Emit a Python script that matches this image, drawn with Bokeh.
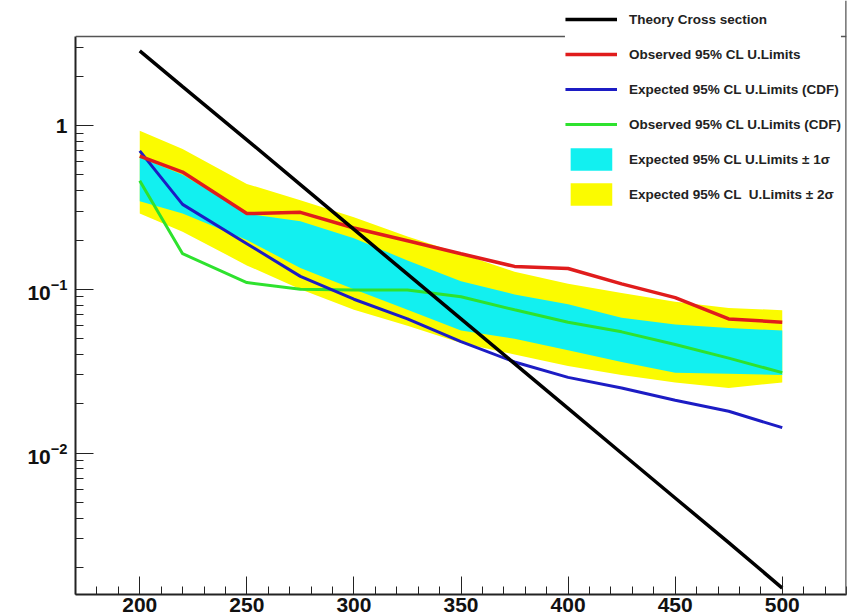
from bokeh.plotting import figure
from bokeh.models import (Range1d, SingleIntervalTicker, LogTicker, Legend, LegendItem,
                          ColumnDataSource, Span)
from bokeh.embed import file_html
from bokeh.resources import INLINE

# ---- data ----
mass = [200, 220, 250, 275, 300, 325, 350, 375, 400, 425, 450, 475, 500]
theory = [2.86, 1.727, 0.818, 0.436, 0.232, 0.1238, 0.066, 0.0352, 0.01874, 0.00998, 0.00532, 0.00284, 0.0015]
observed = [0.65, 0.52, 0.29, 0.295, 0.237, 0.198, 0.165, 0.138, 0.134, 0.108, 0.089, 0.066, 0.063]
expected_cdf = [0.70, 0.33, 0.19, 0.12, 0.087, 0.066, 0.048, 0.036, 0.029, 0.025, 0.021, 0.018, 0.0143]
observed_cdf = [0.46, 0.165, 0.11, 0.10, 0.099, 0.099, 0.090, 0.075, 0.063, 0.055, 0.046, 0.038, 0.031]
sigma1_up = [0.64, 0.50, 0.29, 0.26, 0.205, 0.15, 0.112, 0.093, 0.081, 0.067, 0.061, 0.058, 0.056]
sigma1_down = [0.345, 0.29, 0.20, 0.135, 0.10, 0.075, 0.056, 0.050, 0.0425, 0.036, 0.031, 0.0305, 0.030]
sigma2_up = [0.93, 0.72, 0.44, 0.35, 0.275, 0.21, 0.165, 0.128, 0.108, 0.095, 0.084, 0.077, 0.0745]
sigma2_down = [0.29, 0.225, 0.14, 0.10, 0.075, 0.06, 0.047, 0.040, 0.034, 0.030, 0.027, 0.025, 0.027]

labels = ["Theory Cross section",
          "Observed 95% CL U.Limits",
          "Expected 95% CL U.Limits (CDF)",
          "Observed 95% CL U.Limits (CDF)",
          "Expected 95% CL U.Limits \u00b1 1\u03c3",
          "Expected 95% CL  U.Limits \u00b1 2\u03c3"]

# axis extents (frame box) and the plotting range (extends above the box for the legend)
x_start, x_end = 170, 530
y_bottom, y_box_top, y_top = 0.00137, 3.5, 5.8

src = ColumnDataSource(dict(mass=mass, theory=theory, observed=observed,
                            expected_cdf=expected_cdf, observed_cdf=observed_cdf,
                            s1u=sigma1_up, s1d=sigma1_down, s2u=sigma2_up, s2d=sigma2_down))

p = figure(width=848, height=614, y_axis_type="log",
           x_range=Range1d(x_start, x_end), y_range=Range1d(y_bottom, y_top),
           output_backend="svg", toolbar_location=None,
           min_border_left=75, min_border_right=2, min_border_top=0, min_border_bottom=0)
p.background_fill_color = "white"
p.border_fill_color = "white"
p.outline_line_color = None
p.xgrid.visible = False
p.ygrid.visible = False

r_y = p.varea(x="mass", y1="s2d", y2="s2u", source=src, fill_color="#fbfb00", fill_alpha=1)
r_c = p.varea(x="mass", y1="s1d", y2="s1u", source=src, fill_color="#12f0f0", fill_alpha=1)
r_g = p.line(x="mass", y="observed_cdf", source=src, line_color="#2ee22e", line_width=3)
r_b = p.line(x="mass", y="expected_cdf", source=src, line_color="#1c1cc4", line_width=3)
r_r = p.line(x="mass", y="observed", source=src, line_color="#e01c1c", line_width=3.5)
r_t = p.line(x="mass", y="theory", source=src, line_color="black", line_width=3.5)

# frame top and right edges
p.add_layout(Span(location=y_box_top, dimension="width", line_color="#555555", line_width=1.5))
p.add_layout(Span(location=x_end, dimension="height", line_color="#555555", line_width=2.5))

font = "Liberation Sans"
for ax in (p.xaxis[0], p.yaxis[0]):
    ax.axis_line_width = 2
    ax.axis_line_color = "#222222"
    ax.major_tick_in = 18
    ax.major_tick_out = 0
    ax.minor_tick_in = 8
    ax.minor_tick_out = 0
    ax.major_tick_line_color = "#222222"
    ax.minor_tick_line_color = "#222222"
    ax.major_label_text_font = font
    ax.major_label_text_font_style = "bold"
    ax.major_label_text_font_size = "21px"
    ax.major_label_text_color = "#111111"

p.xaxis[0].ticker = SingleIntervalTicker(interval=50, num_minor_ticks=5)
p.xaxis[0].major_label_standoff = 3
p.yaxis[0].ticker = LogTicker(num_minor_ticks=10, desired_num_ticks=4)
p.yaxis[0].bounds = (y_bottom, y_box_top)
p.yaxis[0].major_label_standoff = 8
p.yaxis[0].major_label_overrides = {1: "1", "1": "1"}

legend = Legend(items=[LegendItem(label=labels[0], renderers=[r_t]),
                       LegendItem(label=labels[1], renderers=[r_r]),
                       LegendItem(label=labels[2], renderers=[r_b]),
                       LegendItem(label=labels[3], renderers=[r_g]),
                       LegendItem(label=labels[4], renderers=[r_c]),
                       LegendItem(label=labels[5], renderers=[r_y])],
                location="top_right")
legend.label_text_font = font
legend.label_text_font_style = "bold"
legend.label_text_font_size = "13.5px"
legend.label_text_color = "#222222"
legend.glyph_width = 52
legend.glyph_height = 28
legend.label_height = 24
legend.label_standoff = 12
legend.spacing = 7
legend.padding = 6
legend.margin = 5
legend.border_line_color = None
legend.background_fill_color = "white"
legend.background_fill_alpha = 1
p.add_layout(legend)

open("out.html", "w").write(file_html(p, INLINE))
